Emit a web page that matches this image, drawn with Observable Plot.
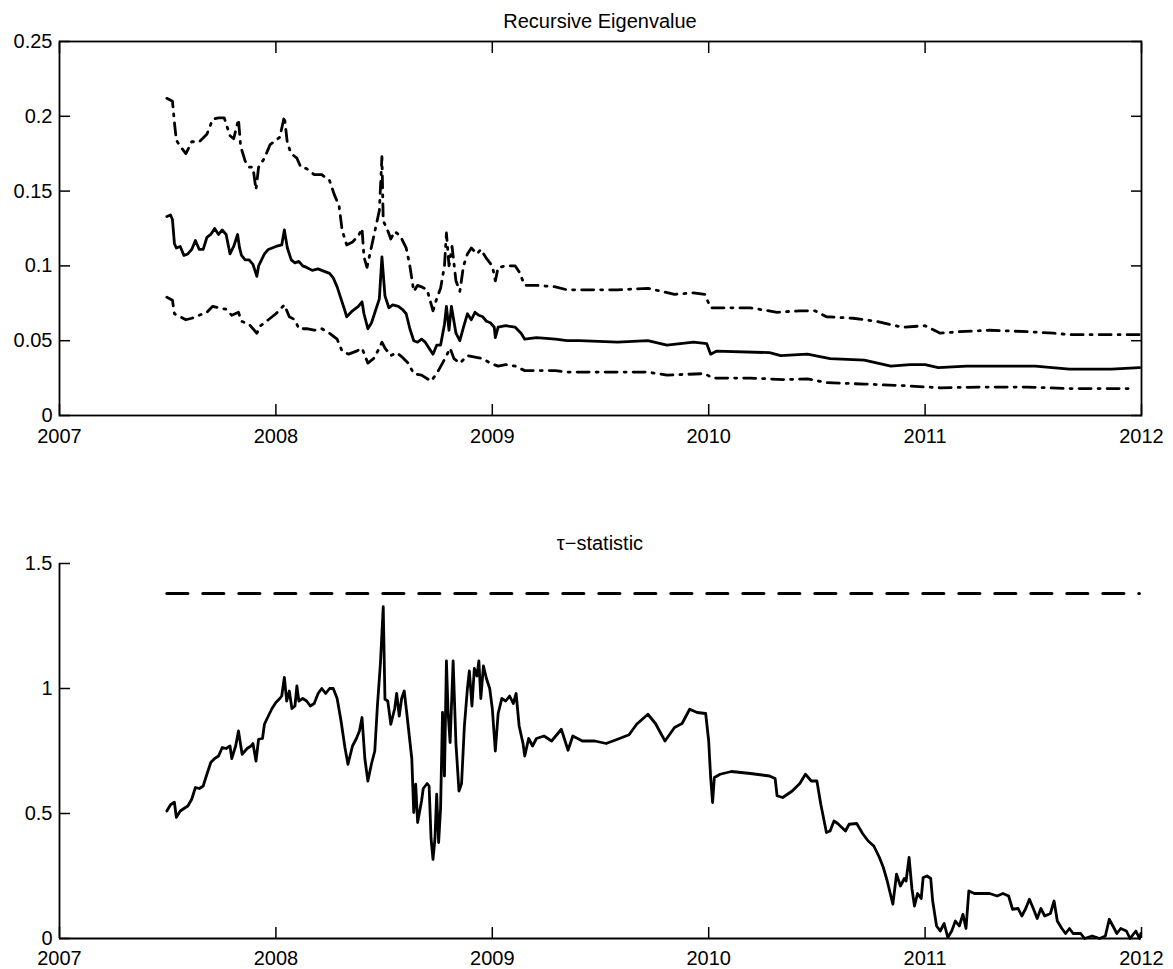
<!DOCTYPE html>
<html>
<head>
<meta charset="utf-8">
<script src="https://cdn.jsdelivr.net/npm/d3@7"></script>
<script src="https://cdn.jsdelivr.net/npm/@observablehq/plot@0.6"></script>
<style>
  html, body { margin: 0; padding: 0; background: #fff; }
  #wrap { position: relative; width: 1173px; height: 969px; overflow: hidden; background: #fff; }
  .ttl { position: absolute; left: 59px; width: 1082px; text-align: center; z-index: 5;
         font-family: 'Liberation Sans', Arial, Helvetica, sans-serif; font-size: 20px; line-height: 22px; color: #000; }
  .pl { position: absolute; left: 0; z-index: 1; }
</style>
</head>
<body>
<div id="wrap">
  <div class="pl" id="top" style="top:0"></div>
  <div class="pl" id="bot" style="top:522px"></div>
  <div class="ttl" style="top:10px">Recursive Eigenvalue</div>
  <div class="ttl" style="top:532px">τ−statistic</div>
</div>
<script>
// ---------- data (decimal years / values) ----------
const yearTicks = [2007, 2008, 2009, 2010, 2011, 2012];
const eigTicks = [0, 0.05, 0.1, 0.15, 0.2, 0.25];
const tauTicks = [0, 0.5, 1, 1.5];

const eigT = [2007.496,2007.513,2007.522,2007.531,2007.540,2007.558,2007.575,2007.593,2007.611,2007.628,2007.646,2007.664,2007.681,2007.699,2007.717,2007.735,2007.752,2007.770,2007.788,2007.805,2007.823,2007.832,2007.841,2007.858,2007.876,2007.894,2007.912,2007.920,2007.947,2007.965,2008.000,2008.027,2008.039,2008.053,2008.071,2008.088,2008.106,2008.124,2008.142,2008.168,2008.195,2008.212,2008.248,2008.265,2008.283,2008.301,2008.319,2008.327,2008.354,2008.381,2008.398,2008.407,2008.425,2008.442,2008.460,2008.478,2008.490,2008.504,2008.522,2008.540,2008.566,2008.584,2008.602,2008.619,2008.637,2008.655,2008.673,2008.690,2008.708,2008.726,2008.743,2008.761,2008.779,2008.788,2008.800,2008.811,2008.832,2008.850,2008.867,2008.885,2008.903,2008.920,2008.938,2008.956,2008.973,2008.991,2009.009,2009.014,2009.027,2009.062,2009.106,2009.133,2009.150,2009.204,2009.292,2009.345,2009.404,2009.579,2009.719,2009.807,2009.930,2009.991,2010.009,2010.035,2010.281,2010.333,2010.456,2010.561,2010.719,2010.842,2010.930,2011.000,2011.061,2011.193,2011.333,2011.509,2011.667,2011.860,2011.991];
const eigV = [0.133,0.134,0.131,0.115,0.112,0.113,0.107,0.108,0.111,0.117,0.111,0.111,0.119,0.121,0.125,0.121,0.124,0.121,0.108,0.113,0.121,0.112,0.107,0.104,0.104,0.101,0.093,0.100,0.108,0.111,0.113,0.114,0.124,0.112,0.104,0.102,0.103,0.100,0.099,0.097,0.098,0.097,0.095,0.092,0.086,0.078,0.070,0.066,0.070,0.073,0.076,0.068,0.058,0.062,0.070,0.078,0.106,0.080,0.072,0.074,0.073,0.071,0.068,0.058,0.050,0.049,0.051,0.049,0.045,0.041,0.047,0.047,0.061,0.073,0.057,0.073,0.055,0.050,0.059,0.068,0.064,0.069,0.067,0.066,0.063,0.062,0.059,0.052,0.059,0.060,0.059,0.055,0.051,0.052,0.051,0.050,0.050,0.049,0.050,0.047,0.049,0.048,0.041,0.043,0.042,0.040,0.041,0.038,0.037,0.033,0.034,0.034,0.032,0.033,0.033,0.033,0.031,0.031,0.032];

const upT = [2007.496,2007.522,2007.531,2007.540,2007.558,2007.584,2007.611,2007.646,2007.681,2007.708,2007.735,2007.761,2007.788,2007.805,2007.827,2007.837,2007.858,2007.876,2007.894,2007.908,2007.920,2007.947,2007.973,2008.018,2008.039,2008.053,2008.071,2008.097,2008.115,2008.142,2008.177,2008.212,2008.248,2008.269,2008.292,2008.306,2008.327,2008.354,2008.381,2008.398,2008.407,2008.421,2008.442,2008.478,2008.490,2008.496,2008.513,2008.531,2008.549,2008.575,2008.602,2008.619,2008.637,2008.655,2008.673,2008.699,2008.726,2008.743,2008.761,2008.779,2008.788,2008.800,2008.814,2008.832,2008.850,2008.867,2008.885,2008.903,2008.929,2008.947,2008.973,2009.000,2009.014,2009.027,2009.062,2009.106,2009.124,2009.150,2009.204,2009.292,2009.345,2009.404,2009.579,2009.719,2009.842,2009.930,2009.982,2010.009,2010.053,2010.193,2010.316,2010.421,2010.491,2010.544,2010.667,2010.772,2010.895,2011.000,2011.070,2011.158,2011.298,2011.474,2011.596,2011.667,2011.860,2011.991];
const upV = [0.212,0.210,0.196,0.184,0.180,0.175,0.183,0.183,0.188,0.198,0.199,0.199,0.187,0.185,0.198,0.180,0.170,0.166,0.166,0.151,0.166,0.172,0.181,0.186,0.200,0.182,0.175,0.172,0.166,0.165,0.161,0.161,0.157,0.148,0.140,0.124,0.114,0.116,0.120,0.125,0.106,0.099,0.113,0.137,0.173,0.130,0.125,0.118,0.123,0.120,0.112,0.100,0.083,0.087,0.086,0.084,0.070,0.078,0.085,0.100,0.122,0.100,0.113,0.090,0.083,0.100,0.108,0.112,0.108,0.111,0.105,0.100,0.090,0.099,0.100,0.100,0.096,0.087,0.087,0.086,0.084,0.084,0.084,0.085,0.081,0.082,0.081,0.072,0.072,0.072,0.069,0.070,0.070,0.066,0.065,0.063,0.059,0.060,0.055,0.056,0.057,0.056,0.055,0.054,0.054,0.054];

const loT = [2007.496,2007.522,2007.531,2007.558,2007.584,2007.611,2007.646,2007.681,2007.708,2007.735,2007.770,2007.796,2007.827,2007.841,2007.876,2007.912,2007.929,2007.965,2008.000,2008.039,2008.062,2008.088,2008.106,2008.142,2008.177,2008.212,2008.248,2008.283,2008.306,2008.336,2008.372,2008.398,2008.425,2008.451,2008.478,2008.490,2008.504,2008.531,2008.558,2008.584,2008.611,2008.637,2008.673,2008.717,2008.743,2008.770,2008.788,2008.805,2008.823,2008.850,2008.885,2008.920,2008.956,2008.991,2009.027,2009.062,2009.106,2009.150,2009.204,2009.292,2009.345,2009.404,2009.719,2009.807,2009.982,2010.018,2010.193,2010.351,2010.456,2010.544,2010.719,2010.895,2011.070,2011.246,2011.474,2011.667,2011.860,2011.947];
const loV = [0.079,0.077,0.068,0.066,0.064,0.065,0.067,0.069,0.073,0.072,0.071,0.067,0.069,0.063,0.061,0.055,0.060,0.064,0.068,0.074,0.066,0.064,0.058,0.058,0.057,0.058,0.055,0.051,0.043,0.041,0.043,0.045,0.035,0.038,0.045,0.049,0.045,0.040,0.042,0.039,0.035,0.028,0.027,0.023,0.028,0.035,0.040,0.045,0.038,0.035,0.040,0.039,0.038,0.035,0.033,0.034,0.033,0.030,0.030,0.030,0.029,0.029,0.029,0.027,0.028,0.025,0.025,0.024,0.0245,0.022,0.021,0.020,0.0185,0.019,0.019,0.018,0.018,0.018];

const tauT = [2007.496,2007.513,2007.531,2007.540,2007.558,2007.575,2007.593,2007.611,2007.628,2007.646,2007.664,2007.681,2007.699,2007.717,2007.735,2007.752,2007.770,2007.788,2007.796,2007.814,2007.827,2007.844,2007.867,2007.885,2007.894,2007.908,2007.920,2007.938,2007.947,2007.965,2007.982,2008.000,2008.018,2008.027,2008.039,2008.050,2008.062,2008.074,2008.088,2008.097,2008.106,2008.124,2008.142,2008.159,2008.177,2008.195,2008.212,2008.230,2008.248,2008.265,2008.283,2008.301,2008.319,2008.333,2008.354,2008.372,2008.386,2008.398,2008.411,2008.425,2008.442,2008.457,2008.469,2008.483,2008.496,2008.504,2008.517,2008.531,2008.549,2008.558,2008.570,2008.581,2008.593,2008.605,2008.619,2008.628,2008.637,2008.646,2008.655,2008.673,2008.681,2008.699,2008.708,2008.717,2008.726,2008.735,2008.743,2008.752,2008.761,2008.770,2008.779,2008.788,2008.796,2008.805,2008.819,2008.832,2008.846,2008.858,2008.871,2008.885,2008.894,2008.906,2008.917,2008.929,2008.938,2008.947,2008.959,2008.973,2008.988,2009.000,2009.014,2009.027,2009.044,2009.062,2009.080,2009.097,2009.110,2009.124,2009.142,2009.150,2009.168,2009.186,2009.204,2009.239,2009.274,2009.319,2009.350,2009.372,2009.416,2009.474,2009.526,2009.579,2009.632,2009.667,2009.719,2009.754,2009.781,2009.798,2009.842,2009.877,2009.912,2009.947,2009.986,2010.000,2010.009,2010.018,2010.026,2010.053,2010.105,2010.193,2010.281,2010.307,2010.316,2010.342,2010.386,2010.421,2010.447,2010.474,2010.500,2010.518,2010.544,2010.561,2010.579,2010.596,2010.632,2010.649,2010.684,2010.711,2010.737,2010.763,2010.789,2010.807,2010.825,2010.851,2010.868,2010.886,2010.904,2010.912,2010.926,2010.939,2010.951,2010.965,2010.982,2010.991,2011.009,2011.026,2011.035,2011.053,2011.070,2011.088,2011.105,2011.123,2011.140,2011.158,2011.175,2011.189,2011.202,2011.228,2011.263,2011.298,2011.333,2011.360,2011.386,2011.404,2011.430,2011.447,2011.465,2011.482,2011.500,2011.518,2011.535,2011.553,2011.579,2011.596,2011.611,2011.632,2011.649,2011.667,2011.684,2011.719,2011.737,2011.772,2011.807,2011.833,2011.851,2011.868,2011.886,2011.904,2011.930,2011.947,2011.974,2011.991,2011.997];
const tauV = [0.51,0.535,0.545,0.485,0.51,0.52,0.53,0.557,0.604,0.60,0.61,0.657,0.704,0.72,0.73,0.764,0.76,0.77,0.72,0.77,0.83,0.737,0.76,0.77,0.78,0.71,0.797,0.80,0.857,0.89,0.92,0.944,0.96,0.97,1.044,0.95,0.99,0.92,0.93,1.01,0.95,0.96,0.95,0.93,0.94,0.98,1.00,0.98,1.00,1.00,0.96,0.87,0.764,0.697,0.77,0.80,0.83,0.884,0.72,0.63,0.70,0.75,0.93,1.10,1.327,0.957,0.95,0.857,0.92,0.98,0.89,0.96,0.99,0.90,0.79,0.72,0.504,0.617,0.464,0.55,0.60,0.62,0.61,0.40,0.317,0.40,0.577,0.384,0.52,0.904,0.65,1.11,0.90,0.784,1.11,0.78,0.59,0.62,0.85,1.00,1.07,0.93,1.08,1.05,1.11,0.96,1.09,1.04,1.00,0.92,0.75,0.90,0.96,0.95,0.97,0.94,0.98,0.85,0.78,0.73,0.80,0.77,0.80,0.81,0.79,0.837,0.753,0.81,0.79,0.79,0.78,0.797,0.815,0.857,0.897,0.86,0.817,0.79,0.844,0.86,0.917,0.904,0.90,0.79,0.644,0.544,0.644,0.657,0.668,0.66,0.65,0.64,0.571,0.564,0.59,0.62,0.657,0.63,0.63,0.537,0.424,0.43,0.47,0.46,0.43,0.457,0.46,0.42,0.39,0.37,0.324,0.284,0.23,0.137,0.257,0.21,0.24,0.23,0.324,0.20,0.13,0.18,0.16,0.244,0.25,0.24,0.15,0.05,0.03,0.06,0.004,0.03,0.07,0.05,0.097,0.04,0.19,0.18,0.18,0.18,0.17,0.18,0.17,0.117,0.12,0.09,0.12,0.157,0.12,0.08,0.12,0.09,0.10,0.15,0.07,0.04,0.02,0.04,0.02,0.02,0.0,0.01,0.0,0.01,0.077,0.05,0.02,0.04,0.03,0.0,0.03,0.0,0.02];

const critValue = 1.38;
const critT = [2007.496, 2011.99];

// ---------- build tables ----------
const rows = (T, V) => T.map((t, i) => ({t, v: V[i]}));
const eigRows = rows(eigT, eigV);
const upRows = rows(upT, upV);
const loRows = rows(loT, loV);
const tauRows = rows(tauT, tauV);
const critRows = critT.map(t => ({t, v: critValue}));

const FONT = "'Liberation Sans', Arial, Helvetica, sans-serif";
const style = {fontFamily: FONT, fontSize: "20px", color: "#000", background: "transparent", overflow: "visible"};
const fmt = d => String(d);
const TICK = 11;
const dashDot = "12,7,2,7";
const LW = 2.8;

const topChart = Plot.plot({
  width: 1173, height: 460,
  marginLeft: 59, marginRight: 32, marginTop: 41, marginBottom: 45,
  style,
  x: {domain: [yearTicks[0], yearTicks[yearTicks.length - 1]], label: null},
  y: {domain: [eigTicks[0], eigTicks[eigTicks.length - 1]], label: null},
  marks: [
    Plot.line(upRows, {x: "t", y: "v", stroke: "#000", strokeWidth: LW, strokeDasharray: dashDot}),
    Plot.line(loRows, {x: "t", y: "v", stroke: "#000", strokeWidth: LW, strokeDasharray: dashDot}),
    Plot.line(eigRows, {x: "t", y: "v", stroke: "#000", strokeWidth: LW}),
    Plot.frame({stroke: "#000", strokeWidth: 1.8}),
    Plot.axisY({anchor: "left", label: null, ticks: eigTicks, tickFormat: fmt, tickSize: -TICK, tickPadding: TICK + 7, strokeWidth: 1.5}),
    Plot.axisY({anchor: "right", label: null, ticks: eigTicks, tickFormat: () => "", tickSize: -TICK, tickPadding: 0, strokeWidth: 1.5}),
    Plot.axisX({anchor: "bottom", label: null, ticks: yearTicks, tickFormat: fmt, tickSize: -TICK, tickPadding: TICK + 13, strokeWidth: 1.5}),
    Plot.axisX({anchor: "top", label: null, ticks: yearTicks, tickFormat: () => "", tickSize: -TICK, tickPadding: 0, strokeWidth: 1.5})
  ]
});
document.getElementById("top").appendChild(topChart);

const botChart = Plot.plot({
  width: 1173, height: 447,
  marginLeft: 59, marginRight: 32, marginTop: 41, marginBottom: 31,
  style,
  x: {domain: [yearTicks[0], yearTicks[yearTicks.length - 1]], label: null},
  y: {domain: [tauTicks[0], tauTicks[tauTicks.length - 1]], label: null},
  marks: [
    Plot.line(critRows, {x: "t", y: "v", stroke: "#000", strokeWidth: 3.2, strokeDasharray: "21,15"}),
    Plot.line(tauRows, {x: "t", y: "v", stroke: "#000", strokeWidth: LW}),
    Plot.ruleX([yearTicks[0]], {stroke: "#000", strokeWidth: 1.8}),
    Plot.ruleY([tauTicks[0]], {stroke: "#000", strokeWidth: 1.8}),
    Plot.axisY({anchor: "left", label: null, ticks: tauTicks, tickFormat: fmt, tickSize: -TICK, tickPadding: TICK + 7, strokeWidth: 1.5}),
    Plot.axisX({anchor: "bottom", label: null, ticks: yearTicks, tickFormat: fmt, tickSize: -TICK, tickPadding: TICK + 12, strokeWidth: 1.5})
  ]
});
document.getElementById("bot").appendChild(botChart);
</script>
</body>
</html>
